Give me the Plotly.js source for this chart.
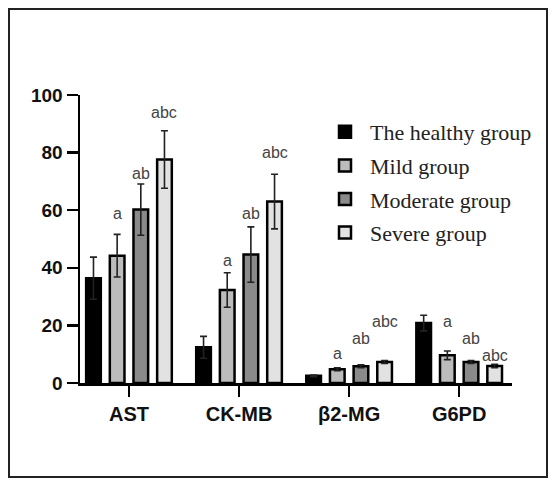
<!DOCTYPE html>
<html>
<head>
<meta charset="utf-8">
<script src="https://cdn.plot.ly/plotly-3.0.1.min.js"></script>
<style>
html,body{margin:0;padding:0;background:#fff;}
#chart{width:553px;height:481px;}
</style>
</head>
<body>
<div id="chart"></div>
<script>
// ---- data ----
var categories = ["AST", "CK-MB", "β2-MG", "G6PD"];
var groupNames = ["The healthy group", "Mild group", "Moderate group", "Severe group"];

var healthy     = [36.4, 12.4, 2.5, 20.8];
var mild        = [44.2, 32.3, 4.8, 9.6];
var moderate    = [60.2, 44.6, 5.8, 7.3];
var severe      = [77.6, 63.0, 7.3, 5.9];

var healthyErr  = [7.3, 3.8, 0.3, 2.7];
var mildErr     = [7.4, 6.0, 0.5, 1.5];
var moderateErr = [8.9, 9.6, 0.5, 0.5];
var severeErr   = [10.0, 9.5, 0.5, 0.6];

// significance letters (per category, for Mild / Moderate / Severe) and their heights
var sigLetters  = ["a", "ab", "abc"];
var sigHeightAST  = [59.0, 72.9, 93.8];
var sigHeightCK   = [42.7, 59.0, 80.2];
var sigHeightB2   = [10.4, 15.6, 21.5];
var sigHeightG6   = [21.5, 15.6, 9.7];

// ---- styling ----
var fills = ["#000000", "#bcbcbc", "#8a8a8a", "#e2e2e2"];
var seriesVals = [healthy, mild, moderate, severe];
var seriesErrs = [healthyErr, mildErr, moderateErr, severeErr];

var traces = seriesVals.map(function (vals, i) {
  return {
    type: "bar",
    name: groupNames[i],
    x: categories,
    y: vals,
    legendgroup: "g" + i,
    marker: { color: fills[i], line: { color: "#000", width: 2.5 } },
    error_y: { type: "data", array: seriesErrs[i], visible: true, color: "#222", thickness: 1.6, width: 3.5 }
  };
});

var bargap = 0.14, groupgap = 0.38;
var catWidthFrac = 1 - bargap;
var slot = catWidthFrac / 4;
function offsetOf(i) { return (i - 1.5) * slot; }

var sigHeights = [sigHeightAST, sigHeightCK, sigHeightB2, sigHeightG6];
var annotations = [];
categories.forEach(function (c, ci) {
  sigLetters.forEach(function (t, k) {
    annotations.push({
      x: ci + offsetOf(k + 1),
      y: sigHeights[ci][k],
      xref: "x", yref: "y",
      text: t, showarrow: false,
      xanchor: "center", yanchor: "middle",
      font: { family: "Liberation Sans, Arial, sans-serif", size: 16, color: "#444" }
    });
  });
});

// frame around the whole figure (pixel -> paper conversion)
var L = 80, R = 41, T = 95, B = 98, W = 553, H = 481;
var pw = W - L - R, ph = H - T - B;
function px2x(p) { return (p - L) / pw; }
function py2y(p) { return (H - B - p) / ph; }

var layout = {
  width: W, height: H,
  margin: { l: L, r: R, t: T, b: B },
  paper_bgcolor: "#fff", plot_bgcolor: "#fff",
  barmode: "group", bargap: bargap, bargroupgap: groupgap,
  showlegend: true,
  legend: {
    x: px2x(320), y: py2y(111), xanchor: "left", yanchor: "top",
    font: { family: "Liberation Serif, Times New Roman, serif", size: 22, color: "#222" },
    itemwidth: 40,
    tracegroupgap: 2, bgcolor: "rgba(0,0,0,0)"
  },
  xaxis: {
    type: "category",
    range: [-0.445, 3.48],
    showline: true, linecolor: "#000", linewidth: 2.5,
    ticks: "outside", ticklen: 11, tickwidth: 2.5, tickcolor: "#000",
    tickfont: { family: "Liberation Sans, Arial, sans-serif", size: 20, color: "#111", weight: "bold" },
    showgrid: false, zeroline: false, fixedrange: true
  },
  yaxis: {
    range: [0, 100],
    tickvals: [0, 20, 40, 60, 80, 100],
    showline: true, linecolor: "#000", linewidth: 2.5,
    ticks: "outside", ticklen: 11, tickwidth: 2.5, tickcolor: "#000",
    tickfont: { family: "Liberation Sans, Arial, sans-serif", size: 19, color: "#111", weight: "bold" },
    showgrid: false, zeroline: false, fixedrange: true
  },
  annotations: annotations,
  shapes: [{
    type: "rect", xref: "paper", yref: "paper",
    x0: px2x(9), x1: px2x(547), y0: py2y(477), y1: py2y(9),
    line: { color: "#222", width: 2 }, fillcolor: "rgba(0,0,0,0)", layer: "below"
  }]
};

Plotly.newPlot("chart", traces, layout, { displayModeBar: false, staticPlot: true });
</script>
</body>
</html>
